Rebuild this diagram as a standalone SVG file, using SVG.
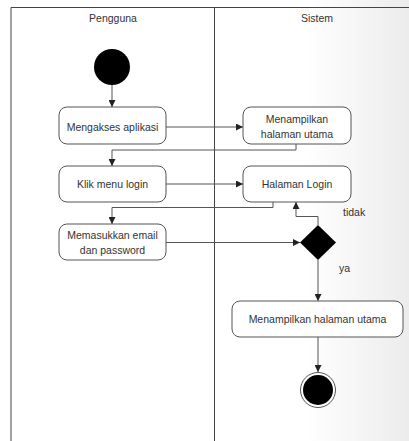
<svg xmlns="http://www.w3.org/2000/svg" width="409" height="441" viewBox="0 0 409 441">
<defs>
<linearGradient id="bg" x1="0" y1="0" x2="1" y2="0">
<stop offset="0" stop-color="#ffffff"/>
<stop offset="0.75" stop-color="#ffffff"/>
<stop offset="1" stop-color="#ececec"/>
</linearGradient>
<marker id="arr" viewBox="0 0 10 10" refX="10" refY="5" markerWidth="7" markerHeight="7" markerUnits="userSpaceOnUse" orient="auto">
<path d="M0,0 L10,5 L0,10 z" fill="#222"/>
</marker>
<style>
.lane{stroke:#444;stroke-width:1;fill:none}
.box{fill:#fff;stroke:#555;stroke-width:1}
.t{font-family:"Liberation Sans",Arial,sans-serif;font-size:10.5px;fill:#333;text-anchor:middle}
.h{font-family:"Liberation Sans",Arial,sans-serif;font-size:10.5px;fill:#333;text-anchor:middle}
.c{stroke:#555;stroke-width:1;fill:none;marker-end:url(#arr)}
.lbl{font-family:"Liberation Sans",Arial,sans-serif;font-size:10.5px;fill:#333}
</style>
</defs>
<rect x="0" y="0" width="409" height="441" fill="url(#bg)"/>
<g id="lanes">
<path class="lane" d="M11,441 V7.5 H409"/>
<path class="lane" d="M214.5,7.5 V441"/>
<text class="h" x="113" y="22">Pengguna</text>
<text class="h" x="317" y="22">Sistem</text>
</g>
<g id="connectors">
<path class="c" d="M112,85 V107"/>
<path class="c" d="M166,127 H243"/>
<path class="c" d="M296,144 V150 H112 V166"/>
<path class="c" d="M166,184 H243"/>
<path class="c" d="M273,202 V207.5 H112 V224"/>
<path class="c" d="M166,242.5 H300"/>
<path class="c" d="M318,225 V216.5 H296 V202"/>
<path class="c" d="M318,260 V301"/>
<path class="c" d="M318,337 V372"/>
</g>
<g id="start"><circle cx="112" cy="67" r="18" fill="#000"/></g>
<g id="mengakses">
<rect class="box" x="59" y="107" width="107" height="37" rx="8"/>
<text class="t" x="112.5" y="130.5">Mengakses aplikasi</text>
</g>
<g id="menampilkan1">
<rect class="box" x="243" y="107" width="108" height="37" rx="8"/>
<text class="t" x="297" y="123">Menampilkan</text>
<text class="t" x="297" y="138">halaman utama</text>
</g>
<g id="klik">
<rect class="box" x="59" y="166" width="107" height="36" rx="8"/>
<text class="t" x="112.5" y="188">Klik menu login</text>
</g>
<g id="halamanlogin">
<rect class="box" x="243" y="166" width="108" height="36" rx="8"/>
<text class="t" x="297" y="188">Halaman Login</text>
</g>
<g id="memasukkan">
<rect class="box" x="59" y="224" width="107" height="36" rx="8"/>
<text class="t" x="112.5" y="239">Memasukkan email</text>
<text class="t" x="112.5" y="254">dan password</text>
</g>
<g id="decision">
<path d="M318,225 L336,242.5 L318,260 L300,242.5 z" fill="#000"/>
<text class="lbl" x="343" y="216">tidak</text>
<text class="lbl" x="339" y="272">ya</text>
</g>
<g id="menampilkan2">
<rect class="box" x="232" y="301" width="171" height="36" rx="8"/>
<text class="t" x="317.5" y="323">Menampilkan halaman utama</text>
</g>
<g id="end">
<circle cx="318" cy="390" r="17.5" fill="#fff" stroke="#555" stroke-width="1"/>
<circle cx="318" cy="390" r="15" fill="#000"/>
</g>
</svg>
